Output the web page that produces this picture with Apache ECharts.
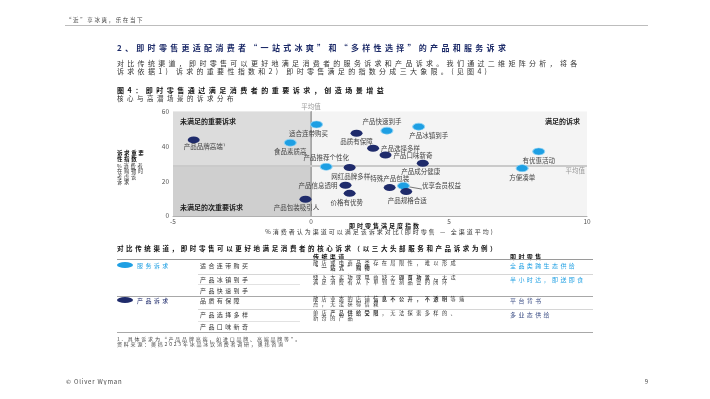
<!DOCTYPE html>
<html>
<head>
<meta charset="utf-8">
<script src="https://cdn.jsdelivr.net/npm/echarts@6/dist/echarts.min.js"></script>
<style>
  html,body{margin:0;padding:0;background:#fff;}
  #page{position:relative;width:710px;height:399px;overflow:hidden;font-family:"Noto Sans CJK SC","Noto Sans",sans-serif;color:#333;}
  #chart{position:absolute;left:0;top:0;width:710px;height:399px;}
  .t{position:absolute;white-space:nowrap;line-height:1;transform-origin:0 0;}
  .hl{position:absolute;height:0;}
</style>
</head>
<body>
<div id="page">
  <div id="chart"></div>
  <div id="overlay"></div>
</div>
<script>
// ---------------- data ----------------
const avgX = 0;
const avgY = 29;
const xTicks = [-5, 0, 5, 10];
const yTicks = [0, 20, 40, 60];

const serviceNames = ['适合连带购买', '产品快速到手', '产品冰镇到手', '食品素质高', '产品推荐个性化', '优享会员权益', '有优惠活动', '方便凑单'];
const serviceX = [0.2, 2.75, 3.9, -0.75, 0.55, 3.35, 8.25, 7.65];
const serviceY = [52.5, 49, 51.3, 42.1, 28.3, 17.3, 37, 27.4];

const productNames = ['产品品牌高端¹', '品质有保障', '产品选择多样', '产品口味新奇', '产品成分健康', '网红品牌多样', '产品信息透明', '特殊产品包装', '产品规格合适', '价格有优势', '产品包装吸引人'];
const productX = [-4.25, 1.65, 2.25, 2.7, 4.05, 1.4, 1.25, 2.85, 3.45, 1.4, -0.2];
const productY = [43.7, 47.5, 38.9, 35, 30.3, 27.8, 17.6, 16.3, 14, 13, 9.6];

const quadrantLabels = ['未满足的重要诉求', '未满足的次重要诉求', '满足的诉求'];
const avgLabel = '平均值';

const headerText = '“近”享冰爽，乐在当下';
const headingText = '2、即时零售更适配消费者“一站式冰爽”和“多样性选择”的产品和服务诉求';
const paraLines = ['对比传统渠道，即时零售可以更好地满足消费者的服务诉求和产品诉求。我们通过二维矩阵分析，将各', '诉求依据1) 诉求的重要性指数和2) 即时零售满足的指数分成三大象限。(见图4)'];
const figTitle = '图4：即时零售通过满足消费者的重要诉求，创造场景增益';
const figSubtitle = '核心与高潜场景的诉求分布';
const yTitleBold = ['诉求重要', '性指数'];
const yTitleNormal = ['%消费者', '在购物时', '考虑该', '诉求'];
const xTitleBold = '即时零售满足度指数';
const xTitleNormal = '%消费者认为渠道可以满足该诉求对比(即时零售 — 全渠道平均)';

const tableTitle = '对比传统渠道，即时零售可以更好地满足消费者的核心诉求（以三大头部服务和产品诉求为例）';
const tableHeads = ['传统渠道', '即时零售'];
const groupNames = ['服务诉求', '产品诉求'];
const serviceCriteria = ['适合连带购买', '产品冰镇到手', '产品快速到手'];
const serviceTraditional = [['散店或电商品类存在局限性，难以形成', '<b>“一站式”购物</b>'], ['线下大卖场或电商缺乏<b>即食场景</b>，无法', '满足消费者从下单到立刻品尝的闭环'], []];
const serviceInstant = ['全品类跨生态供给', '半小时达，即送即食', ''];
const productCriteria = ['品质有保障', '产品选择多样', '产品口味新奇'];
const productTraditional = [['散店业态的店铺<b>信息不公开，不透明</b>等痛', '点，无法获得信赖'], ['单店<b>产品供给受限</b>，无法探索多样的、', '新奇的产品'], []];
const productInstant = ['平台背书', '多业态供给', ''];
const footnotes = ['1. 具体诉求为“产品品牌高端，如进口品牌、高端品牌等”。', '资料来源：奥纬2023年冰品冰饮消费者调研，奥纬咨询'];
const footerLeft = '© Oliver Wyman';
const footerRight = '9';

// ---------------- styles (separate from data) ----------------
const DARK = '#1f2b6b';
const LIGHT = '#1e9fe3';
const labelPlacement = {
  '适合连带购买': ['bottom', [-8, 0]],
  '产品快速到手': ['top', [-5, 0]],
  '产品冰镇到手': ['bottom', [10, 0]],
  '食品素质高': ['bottom', [0, 0]],
  '产品推荐个性化': ['top', [0, 0]],
  '优享会员权益': ['right', [0, 0]],
  '有优惠活动': ['bottom', [0, 0]],
  '方便凑单': ['bottom', [0, 0]],
  '产品品牌高端¹': ['bottom', [11, -2]],
  '品质有保障': ['bottom', [0, 0]],
  '产品选择多样': ['right', [0, 0]],
  '产品口味新奇': ['right', [0, 0]],
  '产品成分健康': ['bottom', [-2, 0]],
  '网红品牌多样': ['bottom', [1, 0]],
  '产品信息透明': ['left', [0, 0]],
  '特殊产品包装': ['top', [0, 0]],
  '产品规格合适': ['bottom', [1, 0]],
  '价格有优势': ['bottom', [-3, 0]],
  '产品包装吸引人': ['bottom', [-9, 0]]
};
const FONT = '"Noto Sans CJK SC","Noto Sans",sans-serif';

function buildData(names, xs, ys) {
  return names.map(function (n, i) {
    const p = labelPlacement[n] || ['right', [0, 0]];
    const item = {
      name: n,
      value: [xs[i], ys[i]],
      label: { position: p[0], offset: p[1], distance: 2 }
    };
    if (n === '优享会员权益') {
      item.label.distance = 12;
      item.labelLine = { show: true, lineStyle: { color: '#555', width: 0.8 } };
    }
    return item;
  });
}

const chart = echarts.init(document.getElementById('chart'), null, { renderer: 'canvas' });
const labelStyle = { show: true, formatter: '{b}', color: '#444', fontSize: 6.5, fontFamily: FONT };
const quadLabel = function (i, pos, off) {
  return { show: true, position: pos, offset: off, formatter: quadrantLabels[i], color: '#222', fontWeight: 'bold', fontSize: 7, fontFamily: FONT };
};

chart.setOption({
  animation: false,
  backgroundColor: 'transparent',
  grid: { left: 173, right: 123, top: 111.5, bottom: 183, show: true, backgroundColor: '#f4f4f4', borderWidth: 0 },
  xAxis: {
    type: 'value', min: xTicks[0], max: xTicks[xTicks.length - 1], interval: 5,
    axisLine: { show: true, lineStyle: { color: '#b0b0b0', width: 1 } },
    axisTick: { show: false }, splitLine: { show: false },
    axisLabel: { color: '#555', fontSize: 6.5, margin: 2, fontFamily: FONT }
  },
  yAxis: {
    type: 'value', min: yTicks[0], max: yTicks[yTicks.length - 1], interval: 20,
    axisLine: { show: true, lineStyle: { color: '#b0b0b0', width: 1 } },
    axisTick: { show: false }, splitLine: { show: false },
    axisLabel: { color: '#555', fontSize: 6.5, margin: 4, fontFamily: FONT }
  },
  series: [
    {
      type: 'scatter', name: '象限', data: [], silent: true,
      markArea: {
        silent: true,
        data: [
          [{ xAxis: xTicks[0], yAxis: avgY, itemStyle: { color: '#dcdcdc' }, label: quadLabel(0, 'insideTopLeft', [2, 1]) },
           { xAxis: avgX, yAxis: yTicks[yTicks.length - 1] }],
          [{ xAxis: xTicks[0], yAxis: yTicks[0], itemStyle: { color: '#cfcfcf' }, label: quadLabel(1, 'insideBottomLeft', [2, 0]) },
           { xAxis: avgX, yAxis: avgY }],
          [{ xAxis: avgX, yAxis: avgY, itemStyle: { color: 'rgba(0,0,0,0)' }, label: quadLabel(2, 'insideTopRight', [-2, 1]) },
           { xAxis: xTicks[xTicks.length - 1], yAxis: yTicks[yTicks.length - 1] }]
        ]
      },
      markLine: {
        silent: true, symbol: 'none',
        data: [
          { xAxis: avgX, lineStyle: { color: '#a3a3a3', width: 1.5, type: 'solid' },
            label: { show: true, position: 'end', formatter: avgLabel, color: '#9a9a9a', fontSize: 6.5, distance: 2, fontFamily: FONT } },
          { yAxis: avgY, lineStyle: { color: '#cacaca', width: 2, type: 'solid' },
            label: { show: true, position: 'insideEndBottom', formatter: avgLabel, color: '#9a9a9a', fontSize: 6.5, distance: 2, fontFamily: FONT } }
        ]
      }
    },
    {
      type: 'scatter', name: '服务诉求', symbol: 'circle', symbolSize: [12, 7], z: 5,
      itemStyle: { color: LIGHT, borderColor: '#8dd2f4', borderWidth: 0.8, opacity: 1 },
      label: labelStyle,
      data: buildData(serviceNames, serviceX, serviceY)
    },
    {
      type: 'scatter', name: '产品诉求', symbol: 'circle', symbolSize: [12, 7], z: 5,
      itemStyle: { color: DARK, opacity: 1 },
      label: labelStyle,
      data: buildData(productNames, productX, productY)
    }
  ]
});

// ---------------- HTML document text ----------------
// text is laid out at 2x and scaled by 0.5 so very small sizes are not clamped
const ov = document.getElementById('overlay');
const K = 2;
function txt(s, x, y, o) {
  o = o || {};
  const d = document.createElement('div');
  d.className = 't';
  d.innerHTML = s;
  d.style.left = x + 'px';
  d.style.top = y + 'px';
  d.style.fontSize = ((o.size || 6) * K) + 'px';
  d.style.letterSpacing = ((o.ls !== undefined ? o.ls : 2.5) * K) + 'px';
  d.style.color = o.color || '#333';
  if (o.bold) d.style.fontWeight = 'bold';
  let tr = 'translateY(-50%)';
  if (o.center) tr = 'translate(-50%,-50%)';
  if (o.right) tr = 'translate(-100%,-50%)';
  d.style.transform = 'scale(' + (1 / K) + ') ' + tr;
  ov.appendChild(d);
  return d;
}
function hline(x1, x2, y, color, w) {
  const d = document.createElement('div');
  d.className = 'hl';
  d.style.left = x1 + 'px';
  d.style.width = (x2 - x1) + 'px';
  d.style.top = y + 'px';
  d.style.borderTop = w + 'px solid ' + color;
  ov.appendChild(d);
}
function oval(x, y, color) {
  const d = document.createElement('div');
  d.style.position = 'absolute';
  d.style.left = (x - 8) + 'px';
  d.style.top = (y - 3) + 'px';
  d.style.width = '16px';
  d.style.height = '6px';
  d.style.borderRadius = '50%';
  d.style.background = color;
  ov.appendChild(d);
}

// header
txt(headerText, 66, 20, { size: 5.5, ls: 1.6, color: '#444' });
hline(65, 648, 25, '#bdbdbd', 1);
txt(headingText, 117, 47, { size: 8, ls: 3.3, bold: true, color: '#1c2a68' });
txt(paraLines[0], 117, 63, { size: 7, ls: 3.3, color: '#333' });
txt(paraLines[1], 117, 71, { size: 7, ls: 3.3, color: '#333' });
txt(figTitle, 117, 90, { size: 7, ls: 3.5, bold: true, color: '#111' });
txt(figSubtitle, 117, 97.5, { size: 6.5, ls: 3.5, color: '#333' });

// axis titles
yTitleBold.forEach(function (s, i) { txt(s, 117, 153 + i * 6, { size: 5.5, ls: 1.6, bold: true, color: '#111' }); });
yTitleNormal.forEach(function (s, i) { txt(s, 117, 165.5 + i * 5.6, { size: 5.2, ls: 1.8, color: '#333' }); });
txt(xTitleBold, 385, 224.5, { size: 6, ls: 2, bold: true, center: true, color: '#111' });
txt(xTitleNormal, 380, 231, { size: 6, ls: 2, center: true, color: '#333' });

// table
txt(tableTitle, 117, 247.5, { size: 6.5, ls: 2.6, bold: true, color: '#111' });
txt(tableHeads[0], 313, 255.5, { size: 6, ls: 2.4, bold: true, color: '#111' });
txt(tableHeads[1], 510, 255.5, { size: 6, ls: 2.4, bold: true, color: '#111' });
hline(117, 593, 259, '#9a9a9a', 1);

const rowY = [264.5, 278.5, 289.5];
const rowY2 = [300, 314, 325.5];
oval(125, 264.5, LIGHT);
txt(groupNames[0], 137, 264.5, { size: 6, ls: 2.4, color: LIGHT });
serviceCriteria.forEach(function (s, i) { txt(s, 200, rowY[i], { size: 6, ls: 2.4 }); });
serviceTraditional.forEach(function (ls, i) { ls.forEach(function (s, j) { txt(s, 313, rowY[i] - 1.5 + j * 5.4, { size: 5.2, ls: 3.4 }); }); });
serviceInstant.forEach(function (s, i) { if (s) txt(s, 510, rowY[i], { size: 6, ls: 2.4, color: LIGHT }); });
hline(198, 593, 274, '#d6d6d6', 0.8);
hline(198, 300, 284, '#e2e2e2', 0.8);
hline(117, 593, 295.5, '#a8a8a8', 1.5);

oval(125, 300, DARK);
txt(groupNames[1], 137, 300, { size: 6, ls: 2.4, color: DARK });
productCriteria.forEach(function (s, i) { txt(s, 200, rowY2[i], { size: 6, ls: 2.4 }); });
productTraditional.forEach(function (ls, i) { ls.forEach(function (s, j) { txt(s, 313, rowY2[i] - 1.5 + j * 5.4, { size: 5.2, ls: 3.4 }); }); });
productInstant.forEach(function (s, i) { if (s) txt(s, 510, rowY2[i], { size: 6, ls: 2.4, color: '#3d4f86' }); });
hline(198, 593, 309, '#d6d6d6', 0.8);
hline(198, 300, 320.5, '#e2e2e2', 0.8);
hline(117, 593, 331.5, '#a8a8a8', 1.5);

txt(footnotes[0], 117, 338.5, { size: 5, ls: 1.8, color: '#444' });
txt(footnotes[1], 117, 344, { size: 5, ls: 1.8, color: '#444' });

txt(footerLeft, 66, 381, { size: 6, ls: 0.8, color: '#444' });
txt(footerRight, 648, 381, { size: 6, ls: 0, color: '#444', right: true });
</script>
</body>
</html>
